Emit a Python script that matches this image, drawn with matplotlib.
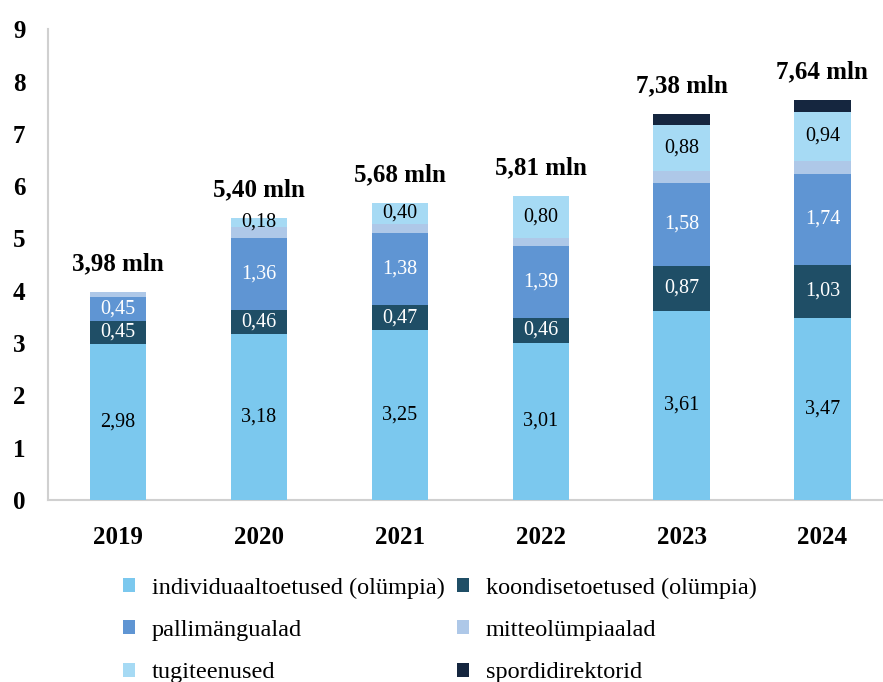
import matplotlib
matplotlib.use("Agg")
import matplotlib.pyplot as plt
import numpy as np

years = ["2019", "2020", "2021", "2022", "2023", "2024"]
series_names = ["individuaaltoetused (olümpia)", "koondisetoetused (olümpia)",
                "pallimängualad", "mitteolümpiaalad", "tugiteenused", "spordidirektorid"]
individuaal = [2.98, 3.18, 3.25, 3.01, 3.61, 3.47]
koondis = [0.45, 0.46, 0.47, 0.46, 0.87, 1.03]
pallimang = [0.45, 1.36, 1.38, 1.39, 1.58, 1.74]
mitteolumpia = [0.10, 0.22, 0.18, 0.15, 0.23, 0.24]
tugiteenused = [0.00, 0.18, 0.40, 0.80, 0.88, 0.94]
spordidirektorid = [0.00, 0.00, 0.00, 0.00, 0.21, 0.22]
totals = ["3,98 mln", "5,40 mln", "5,68 mln", "5,81 mln", "7,38 mln", "7,64 mln"]

colors = ["#7BC8EE", "#1F4E66", "#5F95D3", "#AEC8E8", "#A6DAF4", "#15263F"]
label_colors = ["black", "white", "white", None, "black", None]

plt.rcParams['font.family'] = ['Liberation Serif', 'DejaVu Serif']

fig = plt.figure(figsize=(8.83, 6.82), dpi=100)
ax = fig.add_axes([0.054, 0.267, 0.946, 0.690])

data = [individuaal, koondis, pallimang, mitteolumpia, tugiteenused, spordidirektorid]
x = np.arange(len(years))
bottom = np.zeros(len(years))
width = 0.40
handles = []
for i, vals in enumerate(data):
    vals = np.array(vals)
    b = ax.bar(x, vals, width, bottom=bottom, color=colors[i], label=series_names[i], zorder=3)
    handles.append(b)
    if label_colors[i] is not None:
        for j, v in enumerate(vals):
            if v > 0:
                ax.text(x[j], bottom[j] + v / 2, f"{v:.2f}".replace(".", ","),
                        ha="center", va="center", fontsize=14.5, color=label_colors[i], zorder=4)
    bottom = bottom + vals

for j, t in enumerate(totals):
    ax.annotate(t, (x[j], bottom[j]), xytext=(0, 12), textcoords="offset points",
                ha="center", va="bottom", fontsize=18, fontweight="bold")

ax.set_ylim(0, 9)
ax.set_xlim(-0.5, 5.43)
ax.set_yticks(range(0, 10))
ax.set_xticks(x)
ax.set_xticklabels(years)
for lab in ax.get_yticklabels() + ax.get_xticklabels():
    lab.set_fontweight("bold")
    lab.set_fontsize(18)
ax.tick_params(axis="y", length=0, pad=16)
ax.tick_params(axis="x", length=0, pad=19)
for s in ["top", "right"]:
    ax.spines[s].set_visible(False)
for s in ["left", "bottom"]:
    ax.spines[s].set_color("#D0D0D0")
    ax.spines[s].set_linewidth(1.5)

order = [0, 2, 4, 1, 3, 5]
leg = fig.legend(handles=[handles[k] for k in order], labels=[series_names[k] for k in order],
                 ncol=2, loc="lower left",
                 bbox_to_anchor=(0.114, -0.034), frameon=False, fontsize=17.5,
                 handlelength=0.5, handleheight=0.5, handletextpad=0.7,
                 columnspacing=0.5, labelspacing=0.88)

fig.savefig("out.png", dpi=100)
